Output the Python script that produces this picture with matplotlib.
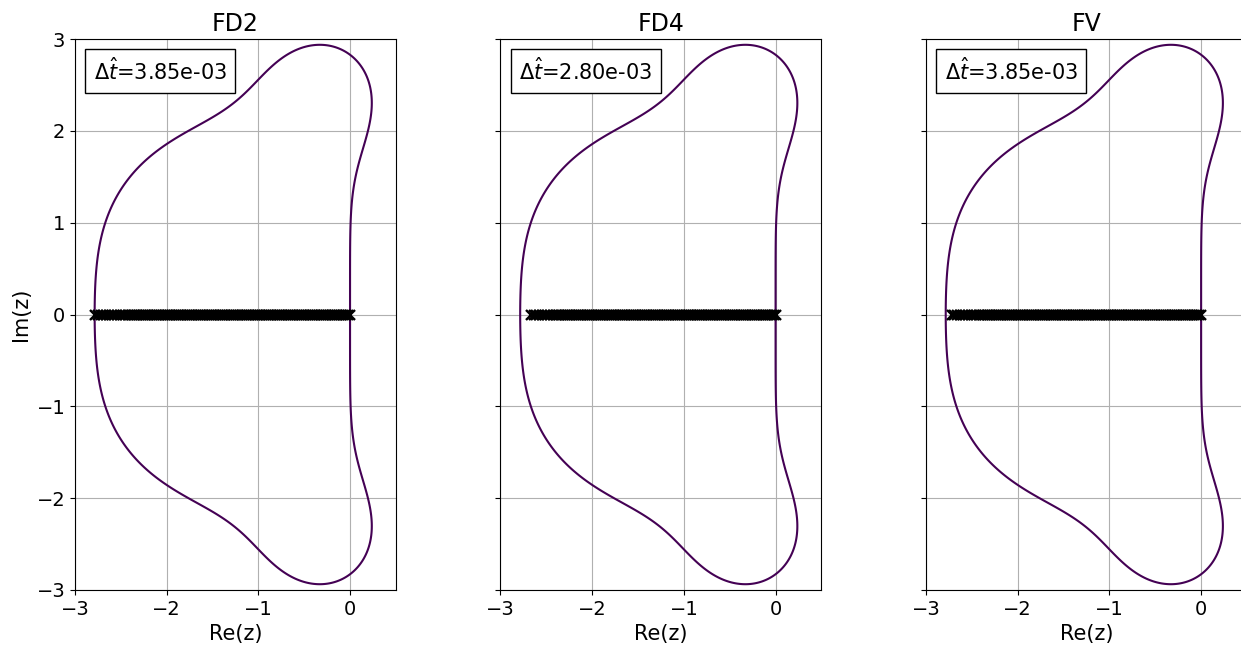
import numpy as np
import matplotlib
matplotlib.use('agg')
import matplotlib.pyplot as plt
from matplotlib.offsetbox import AnchoredText

# RK4 stability polynomial coefficients (constant term first)
rk_coeffs = [1.0, 1.0, 1.0 / 2, 1.0 / 6, 1.0 / 24]

titles = ["FD2", "FD4", "FV"]
dt_hat = [3.85e-03, 2.80e-03, 3.85e-03]

eig_fd2 = [-2.78, -2.75, -2.72, -2.69, -2.66, -2.63, -2.60, -2.57, -2.54, -2.51,
           -2.48, -2.45, -2.42, -2.40, -2.38, -2.36, -2.34, -2.32, -2.30, -2.28,
           -2.26, -2.24, -2.22, -2.20, -2.18, -2.16, -2.14, -2.12, -2.10, -2.08,
           -2.06, -2.04, -2.02, -2.00, -1.98, -1.96, -1.94, -1.92, -1.90, -1.88,
           -1.86, -1.84, -1.82, -1.80, -1.78, -1.76, -1.74, -1.72, -1.70, -1.68,
           -1.66, -1.64, -1.62, -1.60, -1.58, -1.56, -1.54, -1.52, -1.50, -1.48,
           -1.46, -1.44, -1.42, -1.40, -1.38, -1.36, -1.34, -1.32, -1.30, -1.28,
           -1.26, -1.24, -1.22, -1.20, -1.18, -1.16, -1.14, -1.12, -1.10, -1.08,
           -1.06, -1.04, -1.02, -1.00, -0.98, -0.96, -0.94, -0.92, -0.90, -0.88,
           -0.86, -0.84, -0.82, -0.80, -0.78, -0.76, -0.74, -0.72, -0.70, -0.68,
           -0.66, -0.64, -0.62, -0.60, -0.58, -0.56, -0.54, -0.52, -0.50, -0.48,
           -0.46, -0.44, -0.42, -0.40, -0.38, -0.36, -0.34, -0.32, -0.30, -0.28,
           -0.26, -0.24, -0.22, -0.20, -0.18, -0.16, -0.14, -0.12, -0.10, -0.08,
           -0.06, -0.04, -0.02, 0.00]
eig_fd4 = [-2.67, -2.64, -2.61, -2.58, -2.55, -2.52, -2.49, -2.46, -2.43, -2.40,
           -2.38, -2.36, -2.34, -2.32, -2.30, -2.28,
           -2.26, -2.24, -2.22, -2.20, -2.18, -2.16, -2.14, -2.12, -2.10, -2.08,
           -2.06, -2.04, -2.02, -2.00, -1.98, -1.96, -1.94, -1.92, -1.90, -1.88,
           -1.86, -1.84, -1.82, -1.80, -1.78, -1.76, -1.74, -1.72, -1.70, -1.68,
           -1.66, -1.64, -1.62, -1.60, -1.58, -1.56, -1.54, -1.52, -1.50, -1.48,
           -1.46, -1.44, -1.42, -1.40, -1.38, -1.36, -1.34, -1.32, -1.30, -1.28,
           -1.26, -1.24, -1.22, -1.20, -1.18, -1.16, -1.14, -1.12, -1.10, -1.08,
           -1.06, -1.04, -1.02, -1.00, -0.98, -0.96, -0.94, -0.92, -0.90, -0.88,
           -0.86, -0.84, -0.82, -0.80, -0.78, -0.76, -0.74, -0.72, -0.70, -0.68,
           -0.66, -0.64, -0.62, -0.60, -0.58, -0.56, -0.54, -0.52, -0.50, -0.48,
           -0.46, -0.44, -0.42, -0.40, -0.38, -0.36, -0.34, -0.32, -0.30, -0.28,
           -0.26, -0.24, -0.22, -0.20, -0.18, -0.16, -0.14, -0.12, -0.10, -0.08,
           -0.06, -0.04, -0.02, 0.00]
eig_fv = [-2.72, -2.69, -2.66, -2.63, -2.60, -2.57, -2.54, -2.51, -2.48, -2.45,
          -2.42, -2.40, -2.38, -2.36, -2.34, -2.32, -2.30, -2.28,
          -2.26, -2.24, -2.22, -2.20, -2.18, -2.16, -2.14, -2.12, -2.10, -2.08,
          -2.06, -2.04, -2.02, -2.00, -1.98, -1.96, -1.94, -1.92, -1.90, -1.88,
          -1.86, -1.84, -1.82, -1.80, -1.78, -1.76, -1.74, -1.72, -1.70, -1.68,
          -1.66, -1.64, -1.62, -1.60, -1.58, -1.56, -1.54, -1.52, -1.50, -1.48,
          -1.46, -1.44, -1.42, -1.40, -1.38, -1.36, -1.34, -1.32, -1.30, -1.28,
          -1.26, -1.24, -1.22, -1.20, -1.18, -1.16, -1.14, -1.12, -1.10, -1.08,
          -1.06, -1.04, -1.02, -1.00, -0.98, -0.96, -0.94, -0.92, -0.90, -0.88,
          -0.86, -0.84, -0.82, -0.80, -0.78, -0.76, -0.74, -0.72, -0.70, -0.68,
          -0.66, -0.64, -0.62, -0.60, -0.58, -0.56, -0.54, -0.52, -0.50, -0.48,
          -0.46, -0.44, -0.42, -0.40, -0.38, -0.36, -0.34, -0.32, -0.30, -0.28,
          -0.26, -0.24, -0.22, -0.20, -0.18, -0.16, -0.14, -0.12, -0.10, -0.08,
          -0.06, -0.04, -0.02, 0.00]
eigs = [eig_fd2, eig_fd4, eig_fv]

plt.rcParams['font.size'] = 14

fig, axes = plt.subplots(1, 3, sharey=True, figsize=(12.41, 6.45), dpi=100)
fig.subplots_adjust(left=0.0604, right=1.0048, top=0.9395, bottom=0.0853, wspace=0.326)

# grid for the stability contour
xr = np.linspace(-3, 0.5, 600)
yr = np.linspace(-3, 3, 1000)
X, Y = np.meshgrid(xr, yr)
Z = X + 1j * Y
R = np.zeros_like(Z)
for k, c in enumerate(rk_coeffs):
    R = R + c * Z**k

for ax, title, dt, ev in zip(axes, titles, dt_hat, eigs):
    ax.contour(X, Y, np.abs(R), levels=[1.0], cmap='viridis', linewidths=1.5)
    ax.plot(ev, np.zeros(len(ev)), 'x', color='k', markersize=7, markeredgewidth=1.7)
    ax.set_xlim(-3, 0.5)
    ax.set_ylim(-3, 3)
    ax.set_xticks([-3, -2, -1, 0])
    ax.set_yticks([-3, -2, -1, 0, 1, 2, 3])
    ax.grid(True)
    ax.set_title(title, fontsize=17)
    ax.set_xlabel('Re(z)', fontsize=15)
    at = AnchoredText(r'$\Delta\hat{t}$=%.2e' % dt, loc='upper left', prop=dict(size=15))
    ax.add_artist(at)

axes[0].set_ylabel('Im(z)', fontsize=15)

fig.savefig('out.png', dpi=100)
